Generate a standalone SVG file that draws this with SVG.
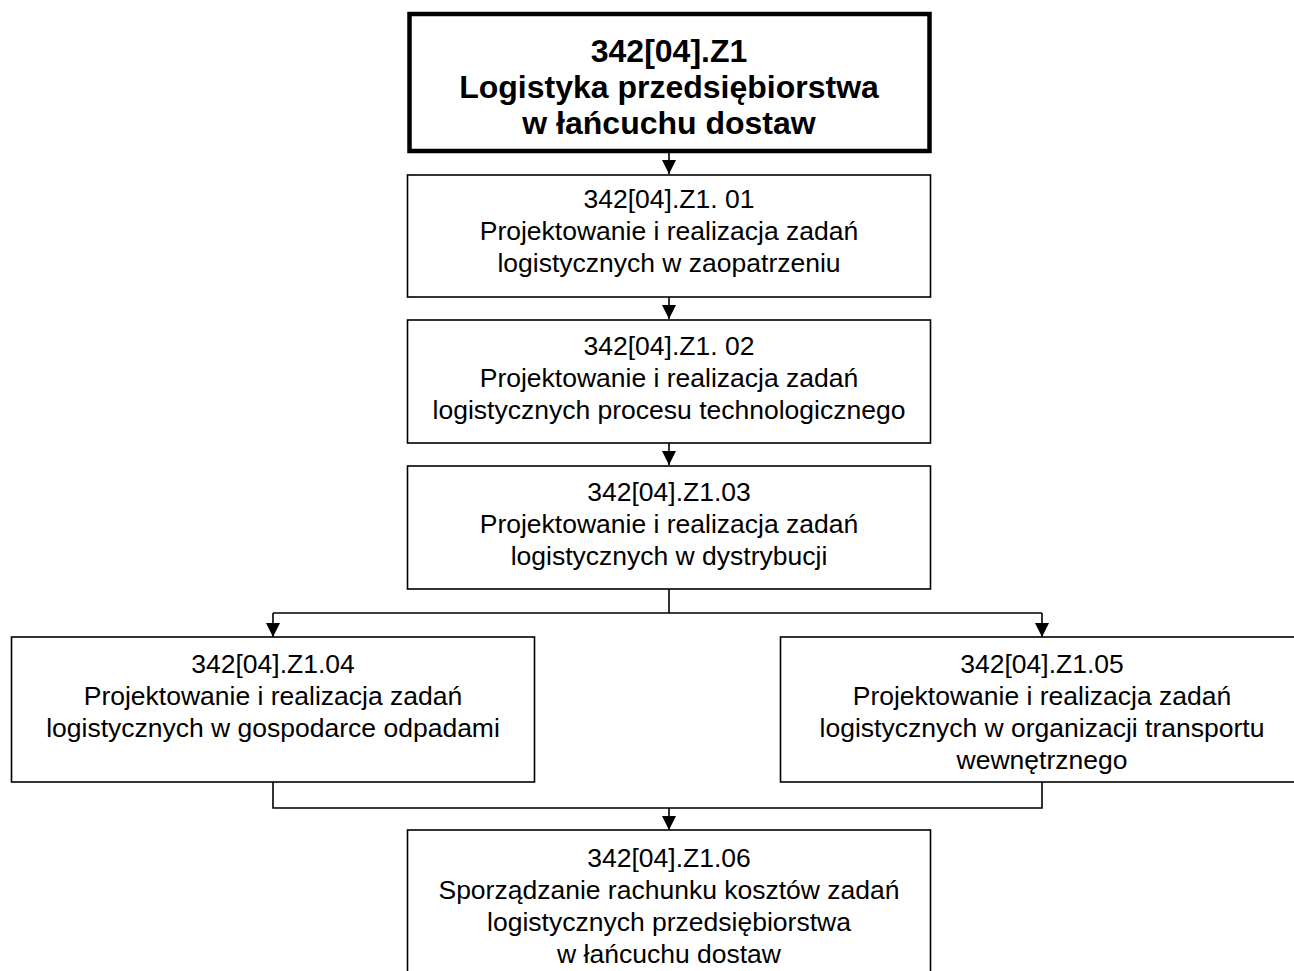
<svg xmlns="http://www.w3.org/2000/svg" width="1294" height="971" viewBox="0 0 1294 971">
<style>
.box{fill:#fff;stroke:#000;stroke-width:1.6}
.main{fill:#fff;stroke:#000;stroke-width:4.5}
.t{font-family:"Liberation Sans",Arial,sans-serif;font-size:26.5px;text-anchor:middle;fill:#000}
.tb{font-family:"Liberation Sans",Arial,sans-serif;font-size:32px;font-weight:bold;text-anchor:middle;fill:#000}
.c{fill:none;stroke:#000;stroke-width:1.6}
</style>
<defs>
<marker id="ah" markerUnits="userSpaceOnUse" markerWidth="14" markerHeight="14" refX="14" refY="7" orient="auto">
<path d="M0,0 L14,7 L0,14 Z" fill="#000"/>
</marker>
</defs>
<rect width="1294" height="971" fill="#fff"/>
<g id="connectors">
<path class="c" d="M669,153 V174" marker-end="url(#ah)"/>
<path class="c" d="M669,297 V319" marker-end="url(#ah)"/>
<path class="c" d="M669,443 V465" marker-end="url(#ah)"/>
<path class="c" d="M669,589 V613 M273,613 H1042"/>
<path class="c" d="M273,613 V637" marker-end="url(#ah)"/>
<path class="c" d="M1042,613 V637" marker-end="url(#ah)"/>
<path class="c" d="M273,782 V808 H1042 V782"/>
<path class="c" d="M669,808 V830" marker-end="url(#ah)"/>
</g>
<g id="n0">
<rect class="main" x="409.5" y="14" width="520" height="137"/>
<text class="tb" x="669" y="62">342[04].Z1</text>
<text class="tb" x="669" y="98">Logistyka przedsiębiorstwa</text>
<text class="tb" x="669" y="134">w łańcuchu dostaw</text>
</g>
<g id="n1">
<rect class="box" x="407.5" y="175" width="523" height="122"/>
<text class="t" x="669" y="208">342[04].Z1. 01</text>
<text class="t" x="669" y="240">Projektowanie i realizacja zadań</text>
<text class="t" x="669" y="272">logistycznych w zaopatrzeniu</text>
</g>
<g id="n2">
<rect class="box" x="407.5" y="320" width="523" height="123"/>
<text class="t" x="669" y="355">342[04].Z1. 02</text>
<text class="t" x="669" y="387">Projektowanie i realizacja zadań</text>
<text class="t" x="669" y="419">logistycznych procesu technologicznego</text>
</g>
<g id="n3">
<rect class="box" x="407.5" y="466" width="523" height="123"/>
<text class="t" x="669" y="501">342[04].Z1.03</text>
<text class="t" x="669" y="533">Projektowanie i realizacja zadań</text>
<text class="t" x="669" y="565">logistycznych w dystrybucji</text>
</g>
<g id="n4">
<rect class="box" x="11.5" y="637" width="523" height="145"/>
<text class="t" x="273" y="673">342[04].Z1.04</text>
<text class="t" x="273" y="705">Projektowanie i realizacja zadań</text>
<text class="t" x="273" y="737">logistycznych w gospodarce odpadami</text>
</g>
<g id="n5">
<rect class="box" x="780.5" y="637" width="524" height="145"/>
<text class="t" x="1042" y="673">342[04].Z1.05</text>
<text class="t" x="1042" y="705">Projektowanie i realizacja zadań</text>
<text class="t" x="1042" y="737">logistycznych w organizacji transportu</text>
<text class="t" x="1042" y="769">wewnętrznego</text>
</g>
<g id="n6">
<rect class="box" x="407.5" y="830" width="523" height="160"/>
<text class="t" x="669" y="867">342[04].Z1.06</text>
<text class="t" x="669" y="899">Sporządzanie rachunku kosztów zadań</text>
<text class="t" x="669" y="931">logistycznych przedsiębiorstwa</text>
<text class="t" x="669" y="963">w łańcuchu dostaw</text>
</g>
</svg>
